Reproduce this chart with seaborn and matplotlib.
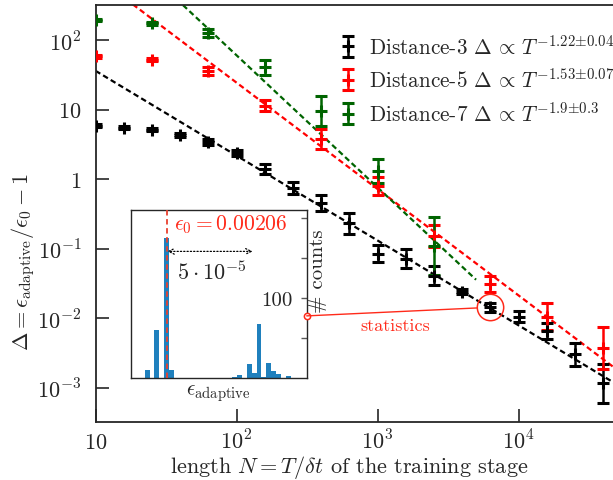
import numpy as np
import pandas as pd
import matplotlib
matplotlib.use("Agg")
import matplotlib.pyplot as plt
import seaborn as sns
from matplotlib.ticker import FixedLocator, FixedFormatter, NullLocator
from matplotlib.patches import ConnectionPatch

# ---------------- data ----------------
N3 = [10, 16, 25, 40, 63, 100, 160, 250, 400, 630, 1000, 1600, 2500, 4000, 6300,
      10000, 16000, 25000, 40000]
d3 = [5.85, 5.5, 5.1, 4.3, 3.4, 2.35, 1.39, 0.74, 0.46, 0.23, 0.085, 0.072, 0.041,
      0.024, 0.0143, 0.0105, 0.0066, 0.0030, 0.00115]
d3_err = [0.02, 0.02, 0.02, 0.025, 0.045, 0.045, 0.07, 0.085, 0.115, 0.145, 0.125,
          0.13, 0.13, 0.04, 0.06, 0.08, 0.115, 0.16, 0.28]   # half-width, decades

N5 = [10, 25, 63, 160, 400, 1000, 2500, 6300, 16000, 40000]
d5 = [58, 52, 36, 11.4, 3.77, 0.80, 0.153, 0.031, 0.0105, 0.0037]
d5_err = [0.02, 0.025, 0.06, 0.085, 0.145, 0.13, 0.16, 0.12, 0.19, 0.30]

N7 = [10, 25, 63, 160, 400, 1000, 2500]
d7 = [194, 174, 125, 40.5, 9.5, 1.32, 0.109]
d7_err = [0.02, 0.025, 0.06, 0.11, 0.21, 0.17, 0.41]

labels = ["Distance-3 $\\Delta\\,\\propto\\, T^{{-}1.22{\\pm}0.04}$",
          "Distance-5 $\\Delta\\,\\propto\\, T^{{-}1.53{\\pm}0.07}$",
          "Distance-7 $\\Delta\\,\\propto\\, T^{{-}1.9{\\pm}0.3}$"]
colors = ["black", "#ff0000", "#006400"]

fit_exp = [-1.22, -1.53, -1.9]
fit_amp1000 = [0.131, 0.72, 0.76]        # fitted value at N = 1000
fit_range = [(10, 8e4), (10, 8e4), (10, 5000)]

# inset histogram
eps0 = 0.00206
hist_eps = [0.0020482, 0.0020539, 0.0020596, 0.0020625, 0.0020995, 0.0021024,
            0.0021081, 0.0021109, 0.0021138, 0.0021166, 0.0021195, 0.0021223,
            0.0021252, 0.0021309]
hist_counts = [10, 60, 175, 10, 1, 4, 17, 6, 68, 1, 19, 9, 5, 2]
bin_w = 2.85e-6

xticks = [10, 100, 1000, 10000]
xticklabels = ["$10$", "$10^2$", "$10^3$", "$10^4$"]
yticks = [1e-3, 1e-2, 1e-1, 1, 10, 100]
yticklabels = ["$10^{-3}$", "$10^{-2}$", "$10^{-1}$", "$1$", "$10$", "$10^2$"]

# ---------------- style ----------------
sns.set_style("ticks")
plt.rcParams["font.family"] = ["cmr10", "DejaVu Serif"]
plt.rcParams["mathtext.fontset"] = "cm"
plt.rcParams["axes.formatter.use_mathtext"] = True
plt.rcParams["axes.unicode_minus"] = False

W, H = 613, 481
fig = plt.figure(figsize=(W / 100, H / 100), dpi=100)
ax = fig.add_axes([95.5 / W, (H - 422.7) / H, (620 - 95.5) / W, (422.7 - 5.7) / H])
ax.set_xscale("log")
ax.set_yscale("log")
ax.set_xlim(10, 10 ** (1 + (620 - 95.5) / 141))
ax.set_ylim(3.24e-4, 322)

# fit lines
for exp_, amp, rng, c in zip(fit_exp, fit_amp1000, fit_range, colors):
    xx = np.geomspace(rng[0], rng[1], 50)
    yy = amp * (xx / 1000.0) ** exp_
    sns.lineplot(x=xx, y=yy, ax=ax, color=c, lw=1.6,
                 linestyle=(0, (2.5, 1.5)), zorder=2)

# data with error bars
handles = []
for N, d, e, c, lab in zip([N3, N5, N7], [d3, d5, d7], [d3_err, d5_err, d7_err],
                           colors, labels):
    d = np.asarray(d, float)
    e = np.asarray(e, float)
    lo = d - d * 10 ** (-e)
    hi = d * 10 ** e - d
    h = ax.errorbar(N, d, yerr=[lo, hi], fmt="+", color=c, ms=8.5, mew=2.2,
                    elinewidth=1.8, capsize=4.2, capthick=1.8, label=lab, zorder=3)
    handles.append(h)

# highlight circle
ax.plot(N3[14], d3[14], "o", ms=19, mfc="none", mec="#ff2a1a", mew=1.1, zorder=4)
ax.text(1330, 0.0080, "statistics", color="#ff2a1a", fontsize=13,
        ha="center", va="center")

ax.xaxis.set_major_locator(FixedLocator(xticks))
ax.xaxis.set_major_formatter(FixedFormatter(xticklabels))
ax.yaxis.set_major_locator(FixedLocator(yticks))
ax.yaxis.set_major_formatter(FixedFormatter(yticklabels))
ax.xaxis.set_minor_locator(NullLocator())
ax.yaxis.set_minor_locator(NullLocator())
ax.tick_params(axis="both", which="major", direction="in", length=9.5, width=1.2,
               labelsize=16, top=False, right=False)
ax.tick_params(axis="x", pad=19)
ax.tick_params(axis="y", pad=10)
for t in ax.xaxis.get_major_ticks():
    t.label1.set_va("baseline")
for s in ax.spines.values():
    s.set_linewidth(1.3)

ax.set_xlabel("length $N = T/\\delta t$ of the training stage", fontsize=16)
ax.xaxis.set_label_coords(0.484, -0.075)
ax.set_ylabel("$\\Delta = \\epsilon_{\\rm adaptive}/\\epsilon_0 - 1$", fontsize=16)
ax.yaxis.set_label_coords(-0.1115, 0.385)

leg = ax.legend(handles=handles, loc="upper left", frameon=False, fontsize=15.3,
                bbox_to_anchor=(337 / W, 1 - 35 / H), bbox_transform=fig.transFigure,
                borderpad=0, handlelength=1.0, handletextpad=0.5, labelspacing=0.48,
                borderaxespad=0)

# ---------------- inset ----------------
axin = fig.add_axes([130.7 / W, (H - 379) / H, 176 / W, 168.3 / H])
axin.set_facecolor("white")
lo_edge = hist_eps[2] - bin_w / 2 - 6 * bin_w
sns.histplot(x=hist_eps, weights=hist_counts, binwidth=bin_w,
             binrange=(lo_edge, lo_edge + 34 * bin_w), ax=axin,
             color="#1f80bd", alpha=1, linewidth=0, zorder=2)
x0 = eps0 - (167.3 - 130.7) / 85.3 * 5e-5
axin.set_xlim(x0, x0 + 176 / 85.3 * 5e-5)
axin.set_ylim(0, 210)
axin.axvline(eps0, color="#e8402e", ls=(0, (3, 2)), lw=1.3, zorder=3)
axin.text(eps0 + 3.9e-6, 192, "$\\epsilon_0 = 0.00206$", color="#ff2a1a",
          fontsize=15.5, va="center", ha="left")
axin.annotate("", xy=(eps0, 158), xytext=(eps0 + 5e-5, 158),
              arrowprops=dict(arrowstyle="<->", ls=":", lw=0.9, color="black",
                              shrinkA=0, shrinkB=0))
axin.text(eps0 + 5.5e-6, 133, "$5\\cdot 10^{-5}$", fontsize=16, va="center",
          ha="left")
axin.set_xticks([])
axin.yaxis.set_major_locator(FixedLocator([50, 100, 150, 200]))
axin.yaxis.set_major_formatter(FixedFormatter(["", "100", "", ""]))
axin.yaxis.tick_right()
axin.tick_params(axis="y", direction="in", length=4.5, width=1, color="0.35",
                 labelsize=15, pad=-10, left=False, right=True)
for t in axin.yaxis.get_major_ticks():
    t.label2.set_ha("right")
axin.yaxis.set_label_position("right")
axin.set_ylabel("# counts", fontsize=15)
axin.yaxis.set_label_coords(1.013, 0.64)
axin.set_xlabel("$\\epsilon_{\\rm adaptive}$", fontsize=15, labelpad=3)
for s in axin.spines.values():
    s.set_linewidth(1.0)
    s.set_color("0.15")

# connector from inset to highlighted point
xr = axin.get_xlim()[1]
con = ConnectionPatch(xyA=(xr, 77.5), coordsA=axin.transData,
                      xyB=(N3[14], d3[14]), coordsB=ax.transData,
                      arrowstyle="-", color="#ff2a1a", lw=1.0,
                      shrinkA=0, shrinkB=9.6, zorder=5)
fig.add_artist(con)
axin.plot([xr], [77.5], "o", ms=4.5, mfc="white", mec="#ff2a1a", mew=1.1,
          clip_on=False, zorder=6)

fig.savefig("out.png", dpi=100)
